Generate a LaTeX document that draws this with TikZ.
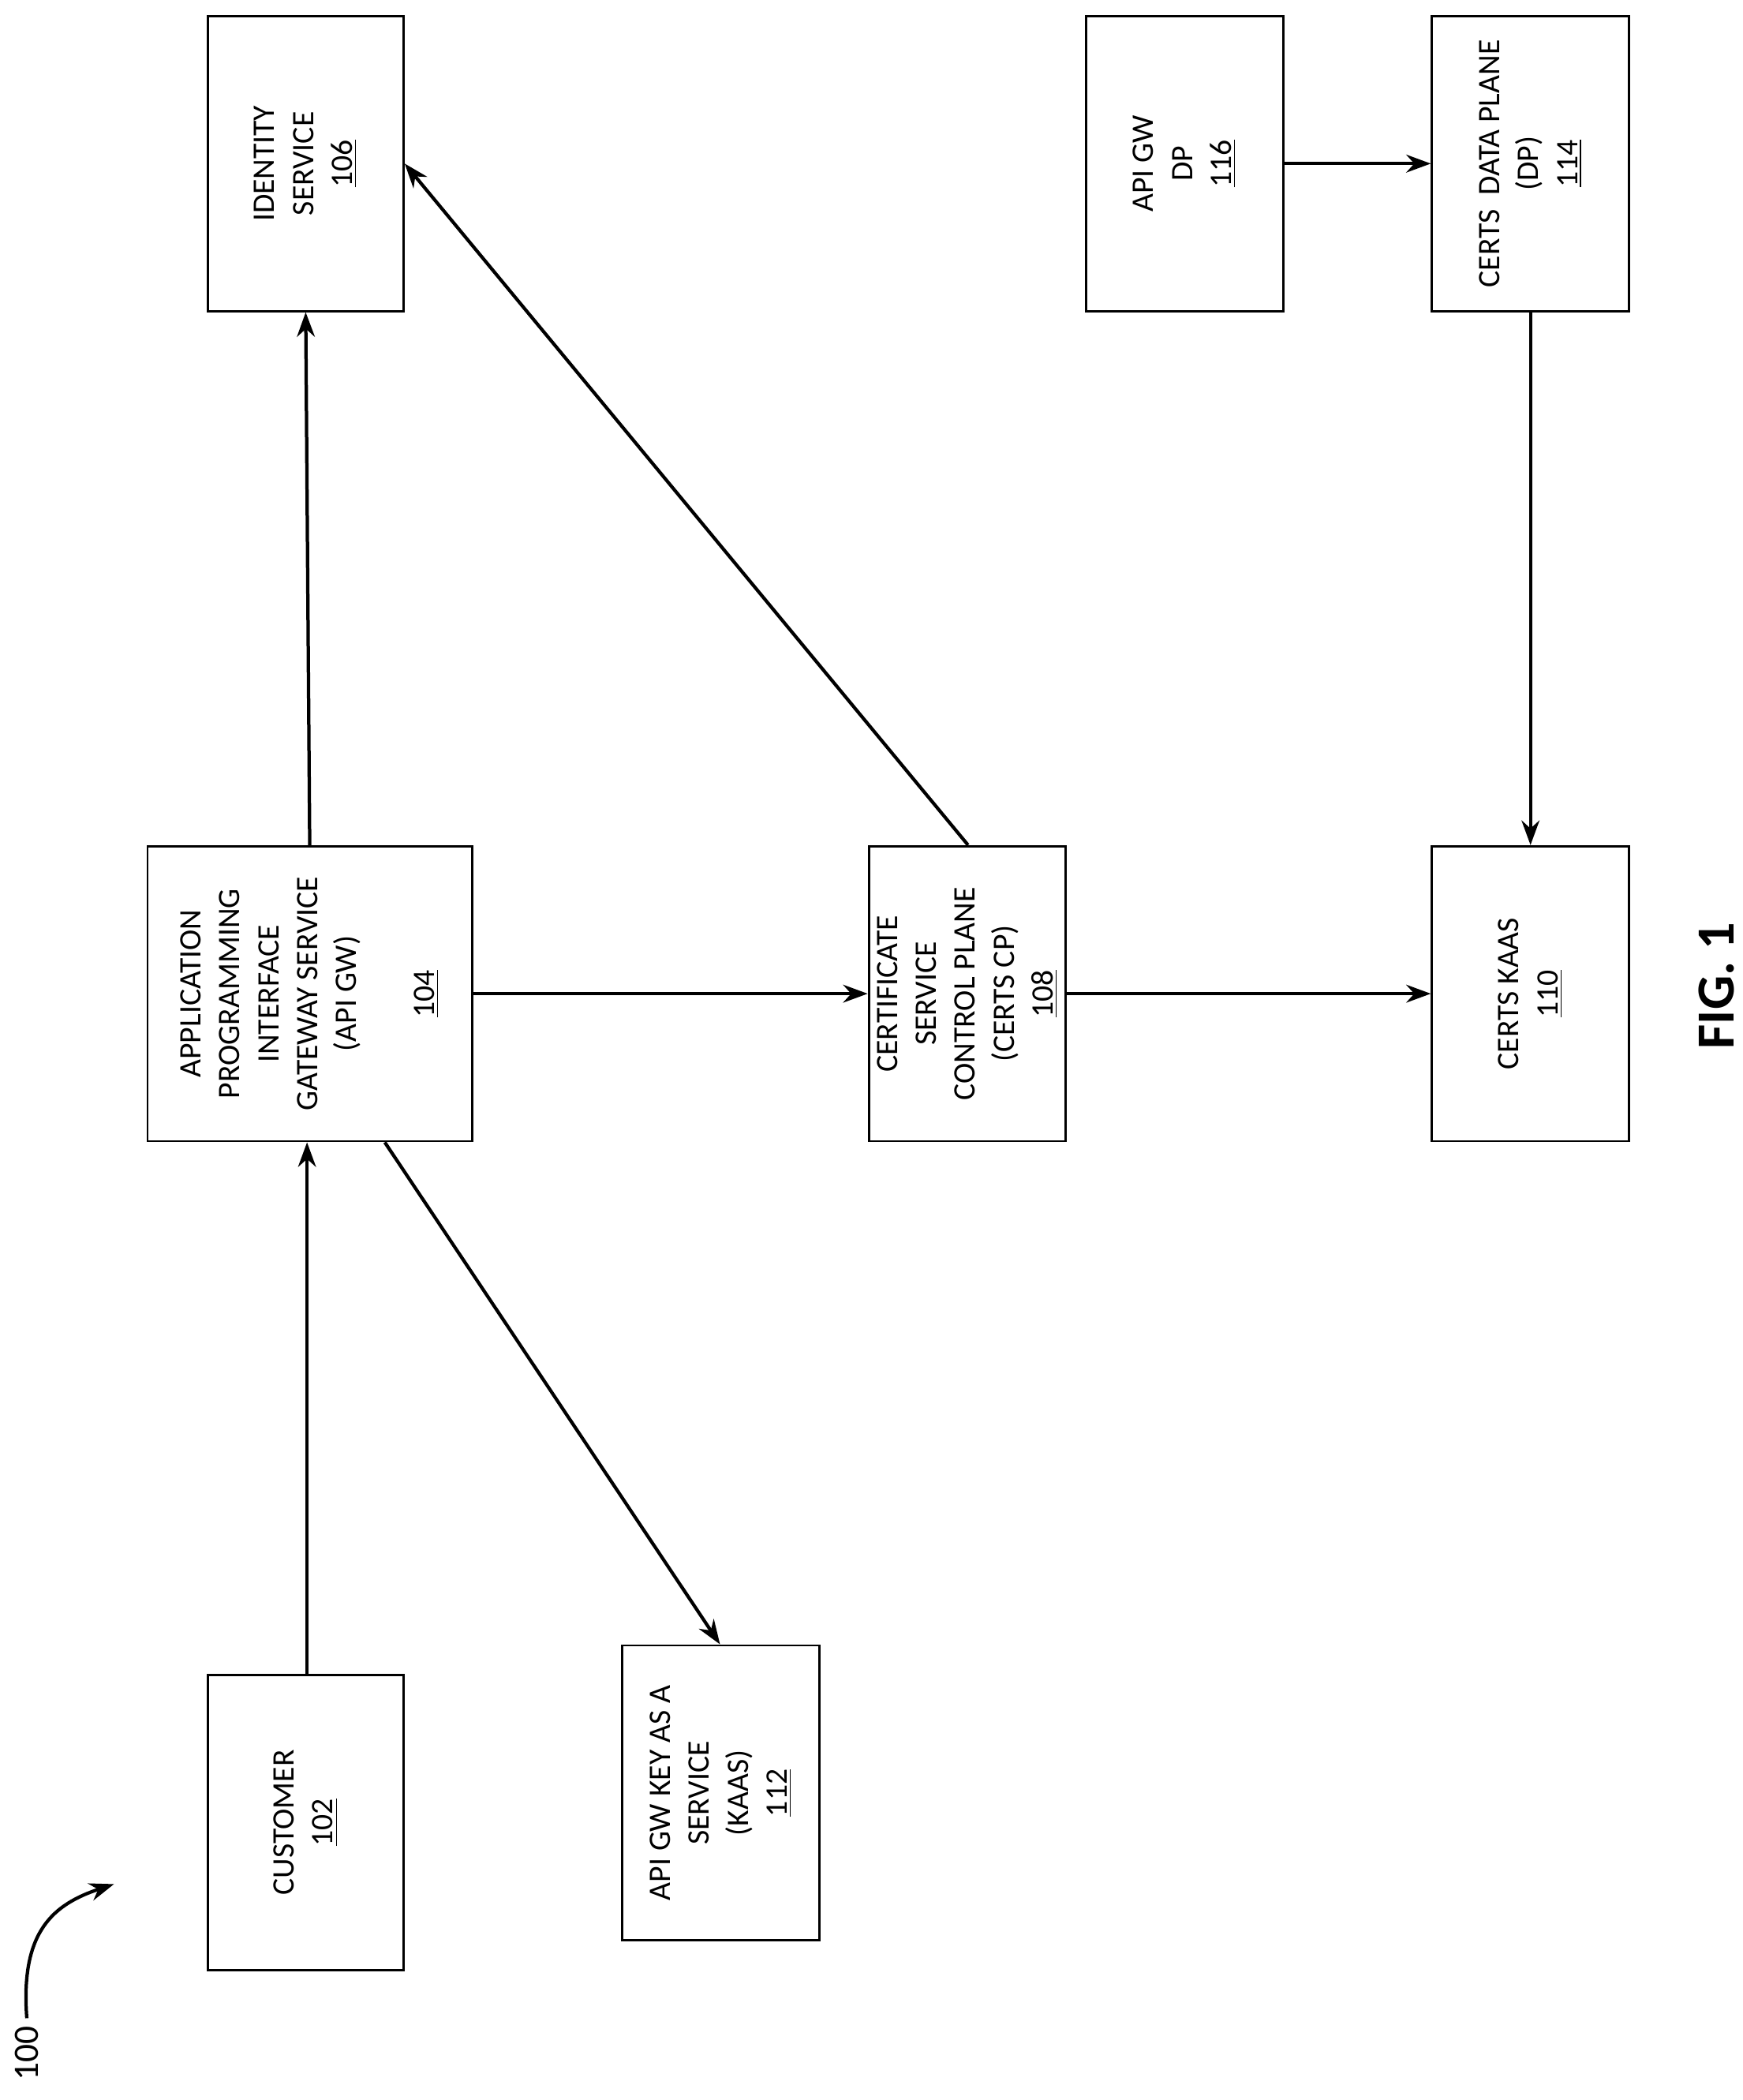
\documentclass[tikz,border=0pt]{standalone}
\usepackage{fontspec}
\setmainfont{Carlito}
\usetikzlibrary{arrows.meta}
\begin{document}
\begin{tikzpicture}[x=0.6pt,y=-0.6pt,
  box/.style={draw,line width=1pt,inner sep=0pt},
  txt/.style={rotate=90,align=center,font=\fontsize{14}{17.4}\selectfont,inner sep=0pt},
  arr/.style={line width=1.5pt,-{Stealth[length=11pt,width=8pt]}}]
\useasboundingbox (0,0) rectangle (1300,1566);
\newcommand{\bx}[5]{\node[box,minimum width={(#4-#2)*0.6pt},minimum height={(#5-#3)*0.6pt}] (#1) at ({(#2+#4)/2},{(#3+#5)/2}) {};}
\bx{id}{155}{12}{301}{232}
\bx{dp}{810}{12}{957}{232}
\bx{cdp}{1068}{12}{1215}{232}
\bx{api}{110}{631}{352}{851}
\bx{ccp}{648}{631}{795}{851}
\bx{ckaas}{1068}{631}{1215}{851}
\bx{cust}{155}{1249}{301}{1469}
\bx{kaas}{464}{1227}{611}{1447}
\node[txt] (tid) at (id) {IDENTITY\\SERVICE\\\underline{106}};
\node[txt] (tdp) at (dp) {API GW\\DP\\\underline{116}};
\node[txt] (tcdp) at (cdp) {CERTS\ \ DATA PLANE\\(DP)\\\underline{114}};
\node[txt] (tapi) at (api) {APPLICATION\\PROGRAMMING\\INTERFACE\\GATEWAY SERVICE\\(API GW)\\[17.4pt]\underline{104}};
\node[txt] (tccp) at (ccp) {CERTIFICATE\\SERVICE\\CONTROL PLANE\\(CERTS CP)\\\underline{108}};
\node[txt] (tck) at (ckaas) {CERTS KAAS\\\underline{110}};
\node[txt] (tcust) at (cust) {CUSTOMER\\\underline{102}};
\node[txt] (tkaas) at (kaas) {API GW KEY AS A\\SERVICE\\(KAAS)\\\underline{112}};
\node[rotate=90,font=\fontsize{24}{28}\selectfont\bfseries] (fig) at (1280,735) {FIG. 1};
\node[rotate=90,font=\fontsize{16}{19}\selectfont,anchor=east] (n100) at (20,1505) {100};
\coordinate (c100) at (85,1405);
\draw[arr] (cust.north -| 229,0) -- (api.south -| 229,0);
\draw[arr] (api.north -| 231,0) -- (id.south -| 228,0);
\draw[arr] (api.east) -- (ccp.west);
\draw[arr] (ccp.east) -- (ckaas.west);
\draw[arr] (ccp.north -| 722,0) -- (id.east);
\draw[arr] (api.south -| 287,0) -- (kaas.north -| 537,0);
\draw[arr] (dp.east) -- (cdp.west);
\draw[arr] (cdp.south) -- (ckaas.north);
\draw[line width=1.5pt,-{Stealth[length=11pt,width=8pt]}] (n100.east) .. controls (15,1440) and (40,1420) .. (c100);
\end{tikzpicture}
\end{document}
